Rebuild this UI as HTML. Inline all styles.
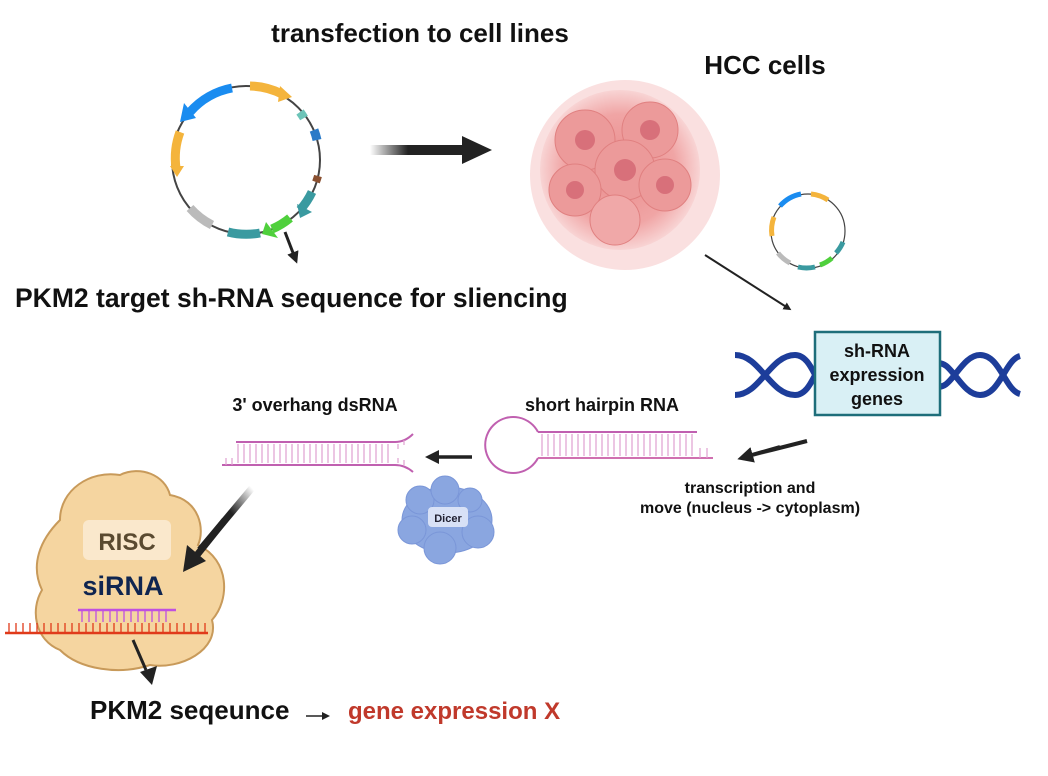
<!DOCTYPE html>
<html><head><meta charset="utf-8"><style>
body{margin:0;background:#fff;}
svg text{font-family:"Liberation Sans",Arial,sans-serif;font-weight:bold;}
</style></head><body>
<svg width="1048" height="771" viewBox="0 0 1048 771" xmlns="http://www.w3.org/2000/svg">
<defs>
<linearGradient id="ga" x1="0" x2="1"><stop offset="0" stop-color="#222" stop-opacity="0"/><stop offset="0.4" stop-color="#222"/><stop offset="1" stop-color="#222"/></linearGradient>
<linearGradient id="gb" x1="1" y1="0" x2="0" y2="1"><stop offset="0" stop-color="#222" stop-opacity="0"/><stop offset="0.4" stop-color="#222"/><stop offset="1" stop-color="#222"/></linearGradient>
<radialGradient id="cell" cx="0.5" cy="0.5" r="0.5"><stop offset="0" stop-color="#e98a8a"/><stop offset="0.7" stop-color="#f0a5a5"/><stop offset="1" stop-color="#f8d4d4"/></radialGradient>
<marker id="ah" markerWidth="4" markerHeight="4" refX="2" refY="2" orient="auto"><path d="M0,0 L4,2 L0,4 z" fill="#222"/></marker>
</defs>

<text x="420" y="42" font-size="26" text-anchor="middle" fill="#111">transfection to cell lines</text>
<text x="765" y="74" font-size="26" text-anchor="middle" fill="#111">HCC cells</text>

<!-- plasmid -->
<g fill="none" stroke-linecap="butt">
<circle cx="246" cy="160" r="74" stroke="#444" stroke-width="2"/>
<path d="M232,88 A74,74 0 0 0 190,112" stroke="#1a8cf0" stroke-width="9"/>
<path d="M250,86 A74,74 0 0 1 282,94" stroke="#f4b43c" stroke-width="9"/>
<path d="M180,132 A74,74 0 0 0 176,168" stroke="#f4b43c" stroke-width="9"/>
<path d="M190,208 A74,74 0 0 0 212,225" stroke="#bbb" stroke-width="9"/>
<path d="M228,232 A74,74 0 0 0 260,233" stroke="#3a9aa0" stroke-width="9"/>
<path d="M272,229 A74,74 0 0 0 290,218" stroke="#4fd03c" stroke-width="9"/>
<path d="M300,210 A74,74 0 0 0 312,192" stroke="#3a9aa0" stroke-width="9"/>
<path d="M300,112 A74,74 0 0 1 304,118" stroke="#6cc4b8" stroke-width="9"/>
<path d="M314,130 A74,74 0 0 1 317,140" stroke="#2a7ac8" stroke-width="9"/>
<path d="M318,176 A74,74 0 0 1 316,182" stroke="#8a5030" stroke-width="8"/>
</g>
<polygon points="184,103 196,118 180,122" fill="#1a8cf0"/>
<polygon points="280,86 292,97 278,102" fill="#f4b43c"/>
<polygon points="170,166 184,166 177,177" fill="#f4b43c"/>
<polygon points="266,222 278,238 262,234" fill="#4fd03c"/>
<polygon points="297,204 312,212 300,218" fill="#3a9aa0"/>
<line x1="285" y1="232" x2="295" y2="258" stroke="#222" stroke-width="3" marker-end="url(#ah)"/>

<text x="15" y="307" font-size="26.5" fill="#111">PKM2 target sh-RNA sequence for sliencing</text>

<!-- big arrow -->
<rect x="370" y="145" width="95" height="10" fill="url(#ga)"/>
<polygon points="462,136 492,150 462,164" fill="#222"/>

<!-- HCC cells -->
<g>
<circle cx="625" cy="175" r="95" fill="#f6cccc" opacity="0.6"/>
<circle cx="620" cy="170" r="80" fill="url(#cell)"/>
<circle cx="585" cy="140" r="30" fill="#ec9a9a" stroke="#e08080"/>
<circle cx="650" cy="130" r="28" fill="#ec9a9a" stroke="#e08080"/>
<circle cx="625" cy="170" r="30" fill="#ec9a9a" stroke="#e08080"/>
<circle cx="575" cy="190" r="26" fill="#ec9a9a" stroke="#e08080"/>
<circle cx="665" cy="185" r="26" fill="#ec9a9a" stroke="#e08080"/>
<circle cx="615" cy="220" r="25" fill="#f0a8a8" stroke="#e08080"/>
<circle cx="585" cy="140" r="10" fill="#d8707a"/>
<circle cx="650" cy="130" r="10" fill="#d8707a"/>
<circle cx="625" cy="170" r="11" fill="#d8707a"/>
<circle cx="575" cy="190" r="9" fill="#d8707a"/>
<circle cx="665" cy="185" r="9" fill="#d8707a"/>
</g>

<!-- small plasmid -->
<g fill="none">
<circle cx="808" cy="231" r="37" stroke="#444" stroke-width="1.2"/>
<path d="M801,194 A37,37 0 0 0 780,206" stroke="#1a8cf0" stroke-width="5"/>
<path d="M811,194 A37,37 0 0 1 828,200" stroke="#f4b43c" stroke-width="5"/>
<path d="M774,217 A37,37 0 0 0 772,236" stroke="#f4b43c" stroke-width="5"/>
<path d="M778,253 A37,37 0 0 0 790,263" stroke="#bbb" stroke-width="5"/>
<path d="M798,267 A37,37 0 0 0 815,267" stroke="#3a9aa0" stroke-width="5"/>
<path d="M820,265 A37,37 0 0 0 832,258" stroke="#4fd03c" stroke-width="5"/>
<path d="M836,253 A37,37 0 0 0 843,242" stroke="#3a9aa0" stroke-width="5"/>
</g>
<line x1="705" y1="255" x2="788" y2="308" stroke="#222" stroke-width="2" marker-end="url(#ah)"/>

<!-- DNA helix -->
<g fill="none" stroke="#1d3d9a" stroke-width="6">
<path d="M735,355 C760,355 770,395 795,395 C810,395 815,370 822,365"/>
<path d="M735,395 C760,395 770,355 795,355 C810,355 815,380 822,385"/>
<path d="M935,365 C950,355 960,395 980,395 C1000,395 1005,360 1020,356"/>
<path d="M935,385 C950,395 960,355 980,355 C1000,355 1005,390 1020,394"/>
</g>
<rect x="815" y="332" width="125" height="83" fill="#d9f0f5" stroke="#1e6e7a" stroke-width="2.5"/>
<text x="877" y="357" font-size="18" text-anchor="middle" fill="#111">sh-RNA</text>
<text x="877" y="381" font-size="18" text-anchor="middle" fill="#111">expression</text>
<text x="877" y="405" font-size="18" text-anchor="middle" fill="#111">genes</text>

<!-- arrow transcription -->
<line x1="807" y1="441" x2="748" y2="456" stroke="url(#ga)" stroke-width="4"/>
<line x1="780" y1="447" x2="745" y2="457" stroke="#222" stroke-width="4" marker-end="url(#ah)"/>
<text x="750" y="493" font-size="16" text-anchor="middle" fill="#111">transcription and</text>
<text x="750" y="513" font-size="16" text-anchor="middle" fill="#111">move (nucleus -&gt; cytoplasm)</text>

<text x="602" y="411" font-size="18" text-anchor="middle" fill="#111">short hairpin RNA</text>
<text x="315" y="411" font-size="18" text-anchor="middle" fill="#111">3' overhang dsRNA</text>

<!-- hairpin -->
<g stroke="#c060b0" fill="none" stroke-width="2">
<path d="M538,432 A28,28 0 1 0 538,458"/>
<line x1="538" y1="432" x2="697" y2="432"/>
<line x1="538" y1="458" x2="713" y2="458" stroke="#d070b0"/>
</g>
<g stroke="#e0a0d0" stroke-width="1.2">
<path d="M542,434v22M548,434v22M554,434v22M560,434v22M566,434v22M572,434v22M578,434v22M584,434v22M590,434v22M596,434v22M602,434v22M608,434v22M614,434v22M620,434v22M626,434v22M632,434v22M638,434v22M644,434v22M650,434v22M656,434v22M662,434v22M668,434v22M674,434v22M680,434v22M686,434v22M692,434v22M700,448v10M707,448v10"/>
</g>

<!-- dsRNA -->
<g stroke="#c060b0" fill="none" stroke-width="2">
<path d="M236,442 L395,442 Q405,442 413,434"/>
<path d="M222,465 L395,465 Q405,465 413,472"/>
</g>
<g stroke="#e0a0d0" stroke-width="1.2">
<path d="M226,458v7M232,458v7M238,444v19M244,444v19M250,444v19M256,444v19M262,444v19M268,444v19M274,444v19M280,444v19M286,444v19M292,444v19M298,444v19M304,444v19M310,444v19M316,444v19M322,444v19M328,444v19M334,444v19M340,444v19M346,444v19M352,444v19M358,444v19M364,444v19M370,444v19M376,444v19M382,444v19M388,444v19M398,444v5M404,440v5M398,458v5M404,460v5"/>
</g>
<line x1="472" y1="457" x2="432" y2="457" stroke="#222" stroke-width="3.5" marker-end="url(#ah)"/>

<!-- Dicer -->
<g fill="#8aa6e0" stroke="#7a96d8">
<ellipse cx="447" cy="520" rx="45" ry="33"/>
<circle cx="420" cy="500" r="14"/><circle cx="445" cy="490" r="14"/><circle cx="470" cy="500" r="12"/>
<circle cx="412" cy="530" r="14"/><circle cx="440" cy="548" r="16"/><circle cx="478" cy="532" r="16"/>
</g>
<rect x="428" y="507" width="40" height="20" rx="4" fill="#e0e8f8" opacity="0.9"/>
<text x="448" y="522" font-size="11" text-anchor="middle" fill="#223" font-weight="normal">Dicer</text>

<!-- RISC -->
<g fill="#f5d5a0" stroke="#c89a5a" stroke-width="2">
<path d="M60,520 C60,490 90,470 120,475 C140,465 165,475 170,495 C200,500 205,530 198,545 C230,560 230,600 212,620 C220,650 180,670 150,665 C120,675 80,670 60,650 C35,640 30,610 42,590 C30,565 40,540 60,520 Z"/>
</g>
<rect x="83" y="520" width="88" height="40" rx="6" fill="#fbead0" opacity="0.9"/>
<text x="127" y="550" font-size="24" text-anchor="middle" fill="#5a4a30" font-weight="normal">RISC</text>
<text x="123" y="595" font-size="27" text-anchor="middle" fill="#0f2550" font-weight="normal">siRNA</text>
<line x1="78" y1="610" x2="176" y2="610" stroke="#c050e0" stroke-width="2.5"/>
<g stroke="#c050e0" stroke-width="1.3"><path d="M82,610v12M89,610v12M96,610v12M103,610v12M110,610v12M117,610v12M124,610v12M131,610v12M138,610v12M145,610v12M152,610v12M159,610v12M166,610v12"/></g>
<line x1="5" y1="633" x2="208" y2="633" stroke="#e03a1a" stroke-width="2.5"/>
<g stroke="#e03a1a" stroke-width="1.3"><path d="M9,623v10M16,623v10M23,623v10M30,623v10M37,623v10M44,623v10M51,623v10M58,623v10M65,623v10M72,623v10M79,623v10M86,623v10M93,623v10M100,623v10M107,623v10M114,623v10M121,623v10M128,623v10M135,623v10M142,623v10M149,623v10M156,623v10M163,623v10M170,623v10M177,623v10M184,623v10M191,623v10M198,623v10M205,623v10"/></g>

<!-- arrow to RISC -->
<line x1="252" y1="488" x2="200" y2="550" stroke="url(#gb)" stroke-width="7"/>
<line x1="225" y1="520" x2="197" y2="555" stroke="#222" stroke-width="7"/>
<polygon points="183,572 187,545 206,561" fill="#222"/>
<line x1="133" y1="640" x2="146" y2="670" stroke="#222" stroke-width="3"/>
<polygon points="140,672 157,666 152,685" fill="#222"/>

<text x="90" y="719" font-size="26" fill="#111">PKM2 seqeunce</text>
<line x1="306" y1="716" x2="324" y2="716" stroke="#222" stroke-width="1.5"/>
<polygon points="322,712 330,716 322,720" fill="#222"/>
<text x="348" y="719" font-size="24" fill="#c0392b">gene expression X</text>
</svg>
</body></html>
